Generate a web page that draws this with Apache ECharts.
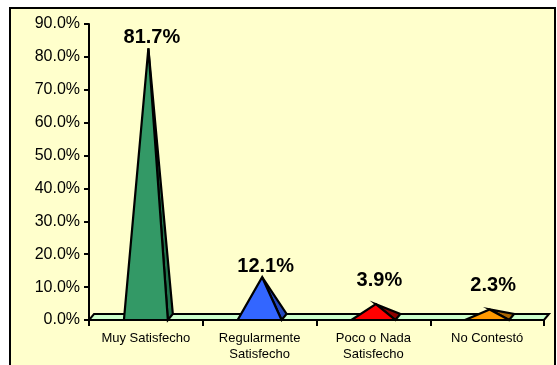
<!DOCTYPE html>
<html>
<head>
<meta charset="utf-8">
<script src="https://cdn.jsdelivr.net/npm/echarts@6/dist/echarts.min.js"></script>
<style>
  html, body { margin: 0; padding: 0; background: #ffffff; }
  #chart { width: 557px; height: 365px; }
</style>
</head>
<body>
<div id="chart"></div>
<script>
// Survey results: satisfaction levels
const categories = ['Muy Satisfecho', 'Regularmente\nSatisfecho', 'Poco o Nada\nSatisfecho', 'No Contestó'];
const values = [0.817, 0.121, 0.039, 0.023];
const frontColors = ['#339966', '#3366FF', '#FF0000', '#FF9900'];
const sideColors = ['#22744C', '#2447BE', '#8E0000', '#A86400'];
const yMin = 0, yMax = 0.9, yStep = 0.1;

// depth offset of the 3D floor / pyramid bases (pixels)
const DEPTH_X = 5, DEPTH_Y = 6;
const FONT = 'Arial, "Liberation Sans", sans-serif';

const pct = v => (v * 100).toFixed(1) + '%';

function renderFloor(params, api) {
  const cs = params.coordSys;
  const y0 = api.coord([0, 0])[1];
  const x0 = cs.x, x1 = cs.x + cs.width;
  return {
    type: 'polygon',
    shape: { points: [[x0, y0], [x1, y0], [x1 + DEPTH_X, y0 - DEPTH_Y], [x0 + DEPTH_X, y0 - DEPTH_Y]] },
    style: { fill: '#CCFFCC', stroke: '#000', lineWidth: 2, lineJoin: 'miter' }
  };
}

function renderPyramid(params, api) {
  const i = params.dataIndex;
  const v = api.value(1);
  const base = api.coord([api.value(0), 0]);
  const top = api.coord([api.value(0), v]);
  const band = api.size([1, 0])[0];
  const half = band * 0.386 / 2;
  const cx = base[0], y0 = base[1];
  const apex = [cx + DEPTH_X / 2, top[1] - DEPTH_Y / 2];
  const left = [cx - half, y0];
  const right = [cx + half, y0];
  const backRight = [cx + half + DEPTH_X, y0 - DEPTH_Y];
  const barPx = y0 - top[1];
  const lift = barPx < 30 ? 21 : 8;
  return {
    type: 'group',
    children: [
      {
        type: 'polygon',
        shape: { points: [right, backRight, apex] },
        style: { fill: sideColors[i], stroke: '#000', lineWidth: 2.2, lineJoin: 'miter' }
      },
      {
        type: 'polygon',
        shape: { points: [left, right, apex] },
        style: { fill: frontColors[i], stroke: '#000', lineWidth: 2.2, lineJoin: 'miter' }
      },
      {
        type: 'text',
        style: {
          text: pct(v),
          x: cx + 6,
          y: top[1] - lift + 4,
          align: 'center',
          verticalAlign: 'bottom',
          textAlign: 'center',
          textVerticalAlign: 'bottom',
          font: 'bold 20px ' + FONT,
          fill: '#000'
        }
      }
    ]
  };
}

const chart = echarts.init(document.getElementById('chart'), null, { renderer: 'canvas' });
chart.setOption({
  backgroundColor: '#ffffff',
  animation: false,
  graphic: [{
    type: 'rect',
    z: -10,
    shape: { x: 10, y: 8, width: 545, height: 420 },
    style: { fill: '#FFFFCC', stroke: '#000', lineWidth: 2 }
  }],
  grid: { left: 89, right: 13, top: 24, bottom: 45 },
  xAxis: {
    type: 'category',
    data: categories,
    axisLine: { show: true, lineStyle: { color: '#000', width: 2 } },
    axisTick: { show: true, length: 6, lineStyle: { color: '#000', width: 2 } },
    axisLabel: { interval: 0, color: '#000', fontFamily: FONT, fontSize: 13, lineHeight: 16, margin: 10 },
    splitLine: { show: false }
  },
  yAxis: {
    type: 'value',
    min: yMin,
    max: yMax,
    interval: yStep,
    axisLine: { show: true, lineStyle: { color: '#000', width: 2 } },
    axisTick: { show: true, length: 5, lineStyle: { color: '#000', width: 2 } },
    axisLabel: { color: '#000', fontFamily: FONT, fontSize: 16, margin: 9, formatter: pct },
    splitLine: { show: false }
  },
  series: [
    {
      type: 'custom',
      name: 'floor',
      z: 1,
      silent: true,
      renderItem: renderFloor,
      data: [[0, 0]],
      encode: { x: 0, y: 1 }
    },
    {
      type: 'custom',
      name: 'Satisfacción',
      z: 3,
      renderItem: renderPyramid,
      data: values.map((v, i) => [i, v]),
      encode: { x: 0, y: 1 }
    }
  ]
});
</script>
</body>
</html>
